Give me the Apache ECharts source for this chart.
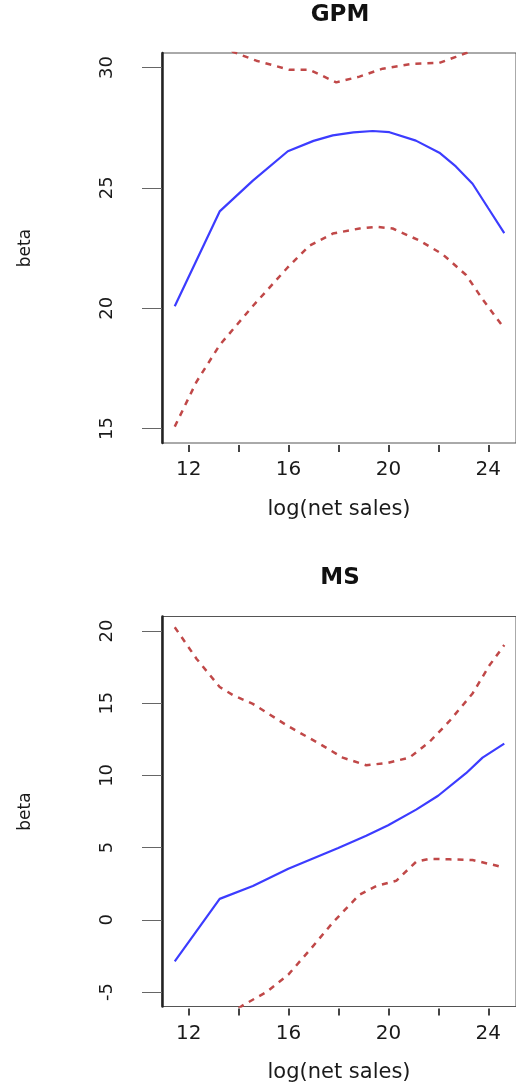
<!DOCTYPE html>
<html>
<head>
<meta charset="utf-8">
<script src="https://cdn.jsdelivr.net/npm/echarts@6/dist/echarts.min.js"></script>
<style>
html, body { margin: 0; padding: 0; background: #fff; }
#chart { width: 516px; height: 1086px; }
</style>
</head>
<body>
<div id="chart"></div>
<script>
// GPM 面板数据
var gpmFitX = [11.44, 13.24, 14.57, 15.97, 17.0, 17.77, 18.6, 19.37, 20.04, 21.1, 22.04, 22.7, 23.37, 24.0, 24.64];
var gpmFitY = [20.08, 24.02, 25.3, 26.52, 26.95, 27.18, 27.3, 27.36, 27.31, 26.96, 26.46, 25.89, 25.17, 24.15, 23.12];
var gpmUpX = [11.44, 12.31, 13.24, 13.77, 14.71, 16.04, 16.84, 17.91, 18.84, 19.77, 20.97, 22.04, 22.7, 23.24, 24.0, 24.64];
var gpmUpY = [34.5, 33.0, 31.5, 30.65, 30.28, 29.9, 29.9, 29.38, 29.62, 29.95, 30.15, 30.19, 30.44, 30.65, 31.3, 32.0];
var gpmLoX = [11.44, 12.31, 13.24, 14.57, 15.97, 16.84, 17.77, 18.84, 19.51, 20.17, 21.24, 22.17, 23.11, 23.77, 24.64];
var gpmLoY = [15.08, 16.94, 18.47, 20.09, 21.7, 22.6, 23.1, 23.31, 23.38, 23.31, 22.81, 22.24, 21.38, 20.37, 19.16];

// MS 面板数据
var msFitX = [11.44, 13.24, 14.57, 15.99, 17.99, 19.11, 19.99, 21.11, 21.99, 23.11, 23.77, 24.64];
var msFitY = [-2.88, 1.45, 2.34, 3.54, 4.98, 5.82, 6.55, 7.63, 8.59, 10.15, 11.23, 12.2];
var msUpX = [11.44, 12.31, 13.24, 13.77, 14.57, 15.99, 17.24, 18.17, 19.11, 19.99, 20.84, 21.64, 22.44, 23.37, 24.04, 24.64];
var msUpY = [20.26, 18.08, 16.12, 15.56, 14.95, 13.4, 12.19, 11.23, 10.7, 10.87, 11.23, 12.31, 13.75, 15.67, 17.6, 19.02];
var msLoX = [11.44, 12.31, 13.24, 14.17, 15.11, 15.99, 16.84, 17.77, 18.84, 19.51, 20.31, 21.11, 21.64, 22.44, 23.37, 24.31, 24.64];
var msLoY = [-11.0, -9.0, -7.0, -5.92, -5.0, -3.79, -2.11, -0.19, 1.74, 2.34, 2.7, 4.02, 4.22, 4.19, 4.14, 3.76, 3.6];

// 刻度
var xTicks = [12, 14, 16, 18, 20, 22, 24];
var xLabels = [12, 16, 20, 24];
var gpmTicks = [15, 20, 25, 30];
var msTicks = [-5, 0, 5, 10, 15, 20];

var FONT = 'DejaVu Sans';
var BLUE = '#3c3cff';
var RED = '#c04848';

function pairs(xs, ys) {
    return xs.map(function (x, i) { return [x, ys[i]]; });
}

function makeX(idx) {
    return {
        gridIndex: idx,
        type: 'value',
        position: 'bottom',
        min: 10.93,
        max: 25.11,
        offset: 2,
        axisLine: { show: false, onZero: false },
        splitLine: { show: false },
        axisTick: {
            show: true,
            length: 7,
            customValues: xTicks,
            lineStyle: { color: '#444', width: 2 }
        },
        axisLabel: {
            customValues: xLabels,
            margin: 15,
            fontSize: 20,
            fontFamily: FONT,
            color: '#1a1a1a'
        },
        name: 'log(net sales)',
        nameLocation: 'middle',
        nameGap: 54,
        nameTextStyle: { fontSize: 21, fontFamily: FONT, color: '#1a1a1a' }
    };
}

function makeY(idx, min, max, ticks) {
    return {
        gridIndex: idx,
        type: 'value',
        min: min,
        max: max,
        splitLine: { show: false },
        axisLine: { show: true, onZero: false, lineStyle: { color: '#222', width: 2.5 } },
        axisTick: {
            show: true,
            length: 20,
            customValues: ticks,
            lineStyle: { color: '#666', width: 1 }
        },
        axisLabel: {
            customValues: ticks,
            rotate: 90,
            margin: 46,
            fontSize: 18,
            fontFamily: FONT,
            color: '#1a1a1a'
        },
        name: 'beta',
        nameLocation: 'middle',
        nameGap: 128,
        nameTextStyle: { fontSize: 17, fontFamily: FONT, color: '#1a1a1a' }
    };
}

function makeLine(xi, xs, ys, color, dashed) {
    return {
        type: 'line',
        xAxisIndex: xi,
        yAxisIndex: xi,
        data: pairs(xs, ys),
        showSymbol: false,
        symbol: 'none',
        smooth: false,
        lineStyle: {
            color: color,
            width: dashed ? 2.5 : 2.2,
            type: dashed ? [6, 6] : 'solid'
        }
    };
}

var myChart = echarts.init(document.getElementById('chart'));

var option = {
    backgroundColor: '#fff',
    animation: false,
    grid: [
        { left: 162, top: 53, width: 354, height: 390, show: true, borderColor: '#555', borderWidth: 1, outerBoundsMode: 'none' },
        { left: 162, top: 616.5, width: 354, height: 390, show: true, borderColor: '#555', borderWidth: 1, outerBoundsMode: 'none' }
    ],
    xAxis: [makeX(0), makeX(1)],
    yAxis: [makeY(0, 14.4, 30.6, gpmTicks), makeY(1, -6, 21, msTicks)],
    graphic: [
        {
            type: 'text', x: 340, y: 15.5,
            style: { text: 'GPM', align: 'center', verticalAlign: 'middle', fontSize: 23, fontWeight: 'bold', fontFamily: FONT, fill: '#111' }
        },
        {
            type: 'text', x: 340, y: 578.5,
            style: { text: 'MS', align: 'center', verticalAlign: 'middle', fontSize: 23, fontWeight: 'bold', fontFamily: FONT, fill: '#111' }
        }
    ],
    series: [
        makeLine(0, gpmUpX, gpmUpY, RED, true),
        makeLine(0, gpmLoX, gpmLoY, RED, true),
        makeLine(0, gpmFitX, gpmFitY, BLUE, false),
        makeLine(1, msUpX, msUpY, RED, true),
        makeLine(1, msLoX, msLoY, RED, true),
        makeLine(1, msFitX, msFitY, BLUE, false)
    ]
};

myChart.setOption(option);
</script>
</body>
</html>
